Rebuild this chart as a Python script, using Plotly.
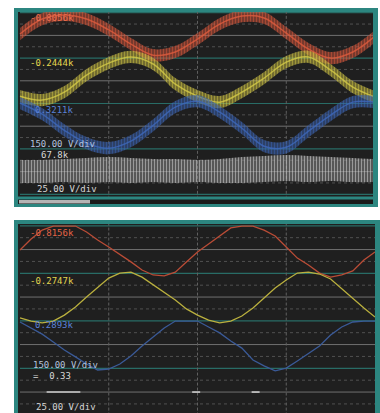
import plotly.graph_objects as go

W, H = 380, 413

# ---------------- data (units: screen divisions) ----------------
t_top = [0, 0.25, 0.5, 0.75, 1, 1.25, 1.5, 1.75, 2, 2.25, 2.5, 2.75, 3, 3.25, 3.5, 3.75, 4]

ch1_top = [3.06, 3.72, 3.90, 3.72, 3.24, 2.62, 2.13, 2.27, 2.84, 3.50, 3.85, 3.77, 3.10, 2.40, 2.00, 2.27, 2.97]
ch2_top = [0.32, 0.15, 0.50, 1.25, 1.78, 2.05, 1.74, 0.85, 0.32, 0.06, 0.50, 1.12, 1.82, 2.05, 1.47, 0.72, 0.28]
ch3_top = [0.02, -0.47, -1.18, -1.75, -1.97, -1.66, -0.96, -0.16, 0.10, -0.38, -1.09, -1.88, -1.93, -1.22, -0.51, 0.06, 0.06]
ch4_top_hi = [-2.49, -2.49, -2.45, -2.40, -2.36, -2.40, -2.45, -2.45, -2.49, -2.45, -2.36, -2.31, -2.27, -2.31, -2.36, -2.40, -2.45]
ch4_top_lo = [-3.50, -3.50, -3.46, -3.50, -3.46, -3.50, -3.46, -3.50, -3.46, -3.50, -3.50, -3.46, -3.41, -3.46, -3.41, -3.46, -3.46]

t_bot = [0, 0.125, 0.25, 0.375, 0.5, 0.625, 0.75, 0.875, 1, 1.125, 1.25, 1.375, 1.5, 1.625, 1.75, 1.875,
         2, 2.125, 2.25, 2.375, 2.5, 2.625, 2.75, 2.875, 3, 3.125, 3.25, 3.375, 3.5, 3.625, 3.75, 3.875, 4]

ch1_bot = [2.98, 3.44, 3.82, 3.99, 3.99, 3.99, 3.74, 3.40, 3.11, 2.81, 2.48, 2.14, 1.93, 1.89, 2.05, 2.48,
           2.90, 3.23, 3.57, 3.91, 3.99, 3.99, 3.82, 3.57, 3.11, 2.64, 2.35, 2.01, 1.84, 1.93, 2.10, 2.56, 2.90]
ch2_bot = [0.12, -0.01, -0.09, -0.01, 0.24, 0.58, 1.00, 1.42, 1.80, 2.01, 2.05, 1.84, 1.51, 1.21, 0.88, 0.50,
           0.24, 0.03, -0.09, -0.01, 0.20, 0.54, 0.96, 1.38, 1.72, 2.01, 2.05, 1.97, 1.76, 1.34, 0.92, 0.54, 0.16]
ch3_bot = [-0.05, -0.30, -0.56, -0.89, -1.23, -1.52, -1.82, -2.07, -2.03, -1.82, -1.48, -1.06, -0.68, -0.30, -0.01, -0.01,
           -0.01, -0.26, -0.51, -0.85, -1.15, -1.65, -1.90, -2.11, -1.99, -1.69, -1.36, -1.06, -0.60, -0.26, -0.05, -0.01, -0.01]
ch4_bot_t = [0.30, 0.68, None, 1.94, 2.03, None, 2.61, 2.70]
ch4_bot_v = [-3.0, -3.0, None, -3.0, -3.0, None, -3.0, -3.0]

labels_top = ["-0.8056k", "-0.2444k", "0.3211k", "150.00 V/div", "67.8k", "25.00 V/div"]
labels_bot = ["-0.8156k", "-0.2747k", "0.2893k", "150.00 V/div", "=  0.33", "25.00 V/div"]

# ---------------- styling ----------------
TEAL = "rgb(44,134,128)"
DARK = "#1f1f1f"
RED, YEL, BLU = "rgb(222,92,62)", "rgb(212,202,72)", "rgb(62,104,186)"
RED2, YEL2, BLU2 = "rgb(186,76,54)", "rgb(186,176,62)", "rgb(58,90,152)"
FONT = "DejaVu Sans Mono"


def px(x, y):
    return x / W, 1 - y / H


fig = go.Figure()


def band(xs, yc, hw, col, rgba_bg, ax):
    up = [v + hw for v in yc]
    lo = [v - hw for v in yc]
    fig.add_trace(go.Scatter(x=xs, y=up, mode="lines", line=dict(width=0, shape="spline"),
                             xaxis=ax[0], yaxis=ax[1], hoverinfo="skip", showlegend=False))
    fig.add_trace(go.Scatter(x=xs, y=lo, mode="lines", line=dict(width=0, shape="spline"),
                             fill="tonexty", fillcolor=rgba_bg,
                             fillpattern=dict(shape="|", fgcolor=col, bgcolor=rgba_bg, size=3, solidity=0.45),
                             xaxis=ax[0], yaxis=ax[1], hoverinfo="skip", showlegend=False))
    fig.add_trace(go.Scatter(x=xs, y=yc, mode="lines", line=dict(width=1.5, color=col, shape="spline"),
                             opacity=0.8, xaxis=ax[0], yaxis=ax[1], hoverinfo="skip", showlegend=False))


# top panel: noisy traces
band(t_top, ch1_top, 0.27, RED, "rgba(200,80,55,0.45)", ("x", "y"))
band(t_top, ch2_top, 0.27, YEL, "rgba(190,180,60,0.45)", ("x", "y"))
band(t_top, ch3_top, 0.27, BLU, "rgba(55,95,170,0.45)", ("x", "y"))
fig.add_trace(go.Scatter(x=t_top, y=ch4_top_hi, mode="lines", line=dict(width=0, shape="spline"),
                         hoverinfo="skip", showlegend=False))
fig.add_trace(go.Scatter(x=t_top, y=ch4_top_lo, mode="lines", line=dict(width=0, shape="spline"),
                         fill="tonexty", fillcolor="rgba(150,150,150,0.45)",
                         fillpattern=dict(shape="|", fgcolor="rgb(225,225,225)", bgcolor="rgba(140,140,140,0.45)",
                                          size=3, solidity=0.4),
                         hoverinfo="skip", showlegend=False))

# bottom panel: clean traces
for vals, col in [(ch1_bot, RED2), (ch2_bot, YEL2), (ch3_bot, BLU2)]:
    fig.add_trace(go.Scatter(x=t_bot, y=vals, mode="lines", line=dict(width=1.3, color=col),
                             xaxis="x2", yaxis="y2", hoverinfo="skip", showlegend=False))
fig.add_trace(go.Scatter(x=ch4_bot_t, y=ch4_bot_v, mode="lines", line=dict(width=1.6, color="rgb(205,205,205)"),
                         connectgaps=False, xaxis="x2", yaxis="y2", hoverinfo="skip", showlegend=False))

shapes = []


def rect(x0, y0, x1, y1, color):
    a0, b0 = px(x0, y1)
    a1, b1 = px(x1, y0)
    shapes.append(dict(type="rect", xref="paper", yref="paper", x0=a0, x1=a1, y0=b0, y1=b1,
                       fillcolor=color, line=dict(width=0), layer="below"))


# frames
rect(14, 8, 378, 207, TEAL)
rect(18, 12, 373, 196.5, DARK)
rect(18, 199.5, 373, 204, "#1a1a1a")
rect(19, 200, 90, 203.5, "rgb(180,180,180)")
rect(14, 220, 380, 413, TEAL)
rect(18, 224, 375, 413, DARK)


def grid(xa, ya, xr):
    for k in range(-8, 9):
        yv = k / 2
        if k % 2:
            st = dict(color="rgb(80,80,80)", width=1, dash="3px,3px")
        elif (k // 2) % 2:
            st = dict(color="rgb(112,112,112)", width=1)
        else:
            st = dict(color="rgb(40,108,102)", width=1.2)
        shapes.append(dict(type="line", xref=xa, yref=ya, x0=0, x1=xr, y0=yv, y1=yv, line=st, layer="below"))
    for xv in (1, 2, 3):
        shapes.append(dict(type="line", xref=xa, yref=ya, x0=xv, x1=xv, y0=-4.2, y1=4.2,
                           line=dict(color="rgb(96,96,96)", width=1, dash="3px,2px"), layer="below"))


grid("x", "y", 3.98)
grid("x2", "y2", 4.0)

annotations = []


def label(text, x, y, color, anchor):
    a, b = px(x, y)
    annotations.append(dict(text=text, x=a, y=b, xref="paper", yref="paper", xanchor=anchor, yanchor="middle",
                            showarrow=False, borderpad=0,
                            font=dict(family=FONT, size=9, color=color)))


WHITE = "rgb(215,215,215)"
LBLUE = "rgb(180,195,222)"
label(labels_top[0], 75, 18, "rgb(235,110,80)", "right")
label(labels_top[1], 75, 63, "rgb(228,215,80)", "right")
label(labels_top[2], 75, 110, "rgb(90,130,215)", "right")
label(labels_top[3], 29, 144, LBLUE, "left")
label(labels_top[4], 40, 155, WHITE, "left")
label(labels_top[5], 36, 189, WHITE, "left")
label(labels_bot[0], 75, 233, "rgb(228,100,70)", "right")
label(labels_bot[1], 75, 281, "rgb(225,212,80)", "right")
label(labels_bot[2], 75, 325, "rgb(90,130,215)", "right")
label(labels_bot[3], 32, 365, LBLUE, "left")
label(labels_bot[4], 32, 376, WHITE, "left")
label(labels_bot[5], 35, 407, WHITE, "left")

ax_common = dict(visible=False, showgrid=False, zeroline=False, fixedrange=True)
fig.update_layout(
    width=W, height=H, margin=dict(l=0, r=0, t=0, b=0),
    paper_bgcolor="white", plot_bgcolor="rgba(0,0,0,0)", showlegend=False,
    xaxis=dict(domain=[18 / W, 373 / W], range=[-0.0225, 3.977], **ax_common),
    yaxis=dict(domain=[1 - 196.5 / H, 1 - 12 / H], range=[-4.097, 4.031], **ax_common),
    xaxis2=dict(domain=[18 / W, 375 / W], range=[-0.0225, 4.0], anchor="y2", **ax_common),
    yaxis2=dict(domain=[0, 1 - 224 / H], range=[-3.882, 4.076], anchor="x2", **ax_common),
    shapes=shapes, annotations=annotations,
)

fig.write_html("out.html", config=dict(displayModeBar=False),
               post_script="document.body.style.margin='0px';document.body.style.overflow='hidden';")
